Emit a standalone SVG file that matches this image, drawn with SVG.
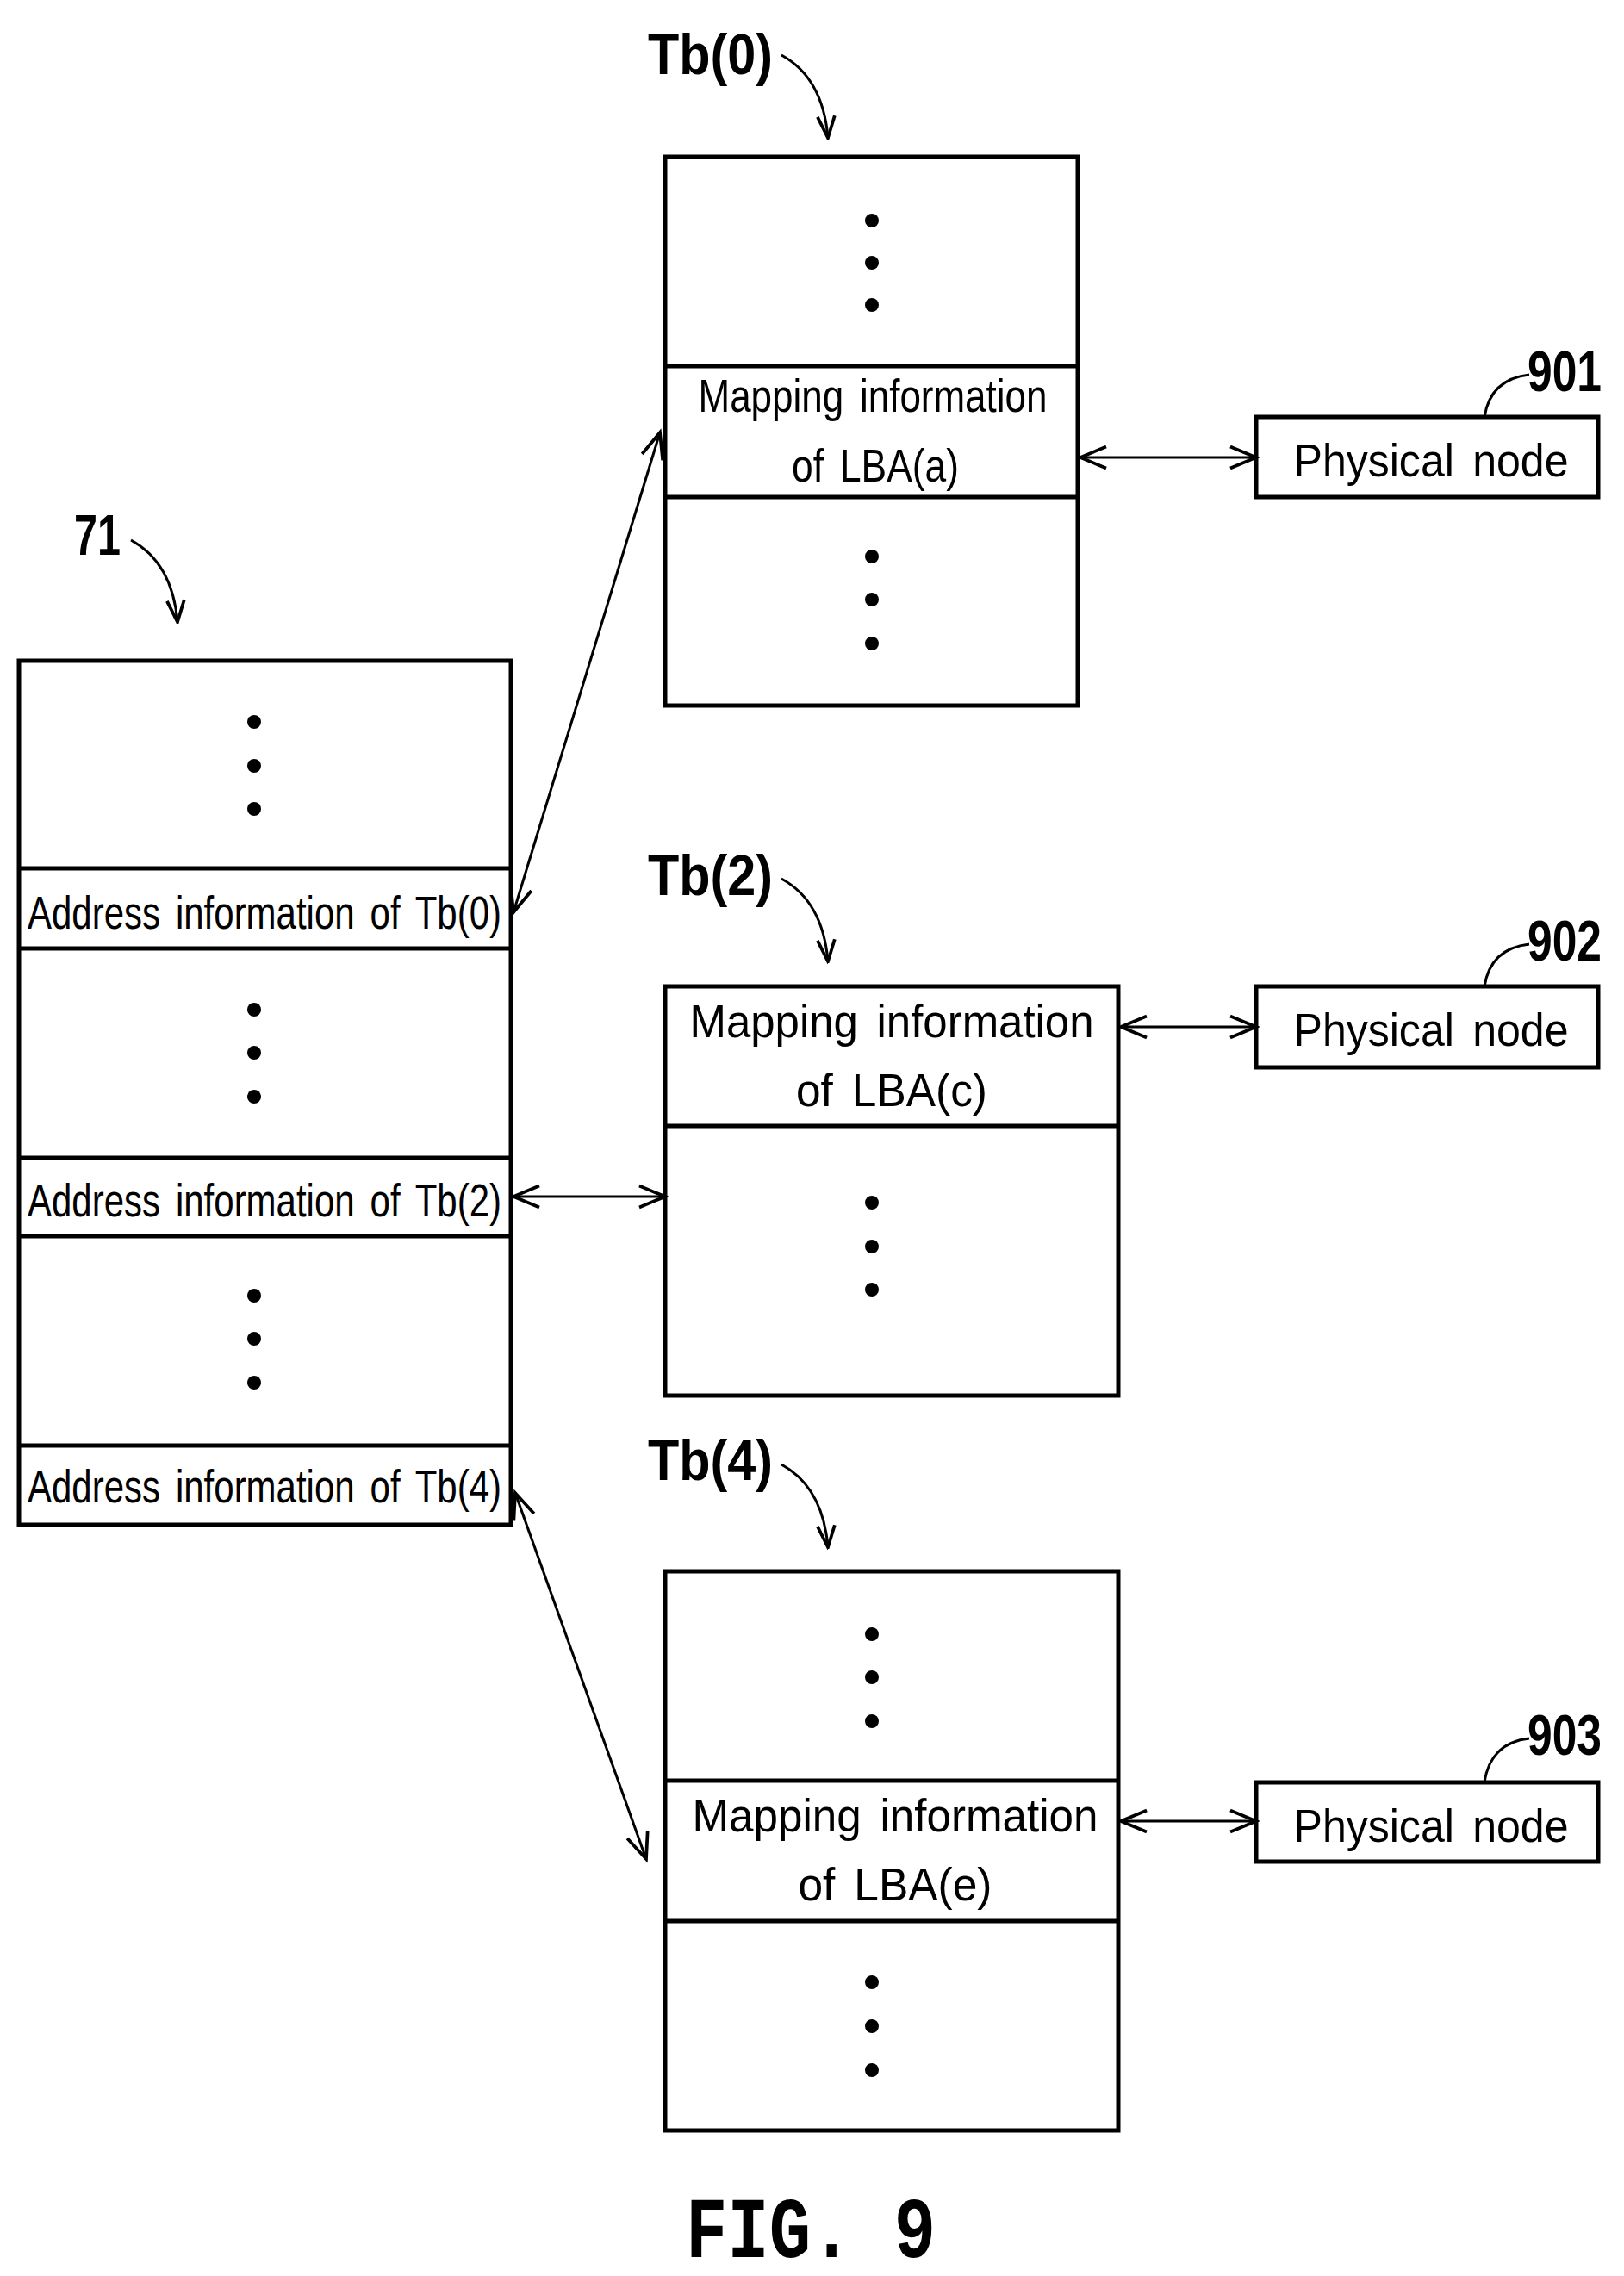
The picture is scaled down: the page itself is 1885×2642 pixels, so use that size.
<svg xmlns="http://www.w3.org/2000/svg" width="1885" height="2642" viewBox="0 0 1885 2642">
<style>
.box{fill:#fff;stroke:#000;stroke-width:5}
.t{font-family:"Liberation Sans",Arial,sans-serif;font-size:54px;fill:#000;text-anchor:middle;word-spacing:8px}
.lbl{font-family:"Liberation Sans",Arial,sans-serif;font-size:66px;font-weight:bold;fill:#000}
.c{fill:none;stroke:#000;stroke-width:3}
.dot{fill:#000}
</style>
<defs>
<marker id="ah" markerUnits="userSpaceOnUse" markerWidth="40" markerHeight="30" refX="26" refY="12" orient="auto-start-reverse" viewBox="0 0 30 24">
<path d="M2,2 L26,12 L2,22" fill="none" stroke="#000" stroke-width="3"/>
</marker>
<marker id="sh" markerUnits="userSpaceOnUse" markerWidth="30" markerHeight="30" refX="22" refY="10" orient="auto" viewBox="0 0 24 20">
<path d="M2,2 L22,10 L2,18" fill="none" stroke="#000" stroke-width="3"/>
</marker>
</defs>

<g id="table71">
<rect class="box" x="22" y="767" width="571" height="1003"/>
<line class="box" x1="22" y1="1008" x2="593" y2="1008"/>
<line class="box" x1="22" y1="1101" x2="593" y2="1101"/>
<line class="box" x1="22" y1="1344" x2="593" y2="1344"/>
<line class="box" x1="22" y1="1435" x2="593" y2="1435"/>
<line class="box" x1="22" y1="1678" x2="593" y2="1678"/>
<circle class="dot" cx="295" cy="838" r="8"/><circle class="dot" cx="295" cy="889" r="8"/><circle class="dot" cx="295" cy="939" r="8"/>
<circle class="dot" cx="295" cy="1172" r="8"/><circle class="dot" cx="295" cy="1222" r="8"/><circle class="dot" cx="295" cy="1273" r="8"/>
<circle class="dot" cx="295" cy="1504" r="8"/><circle class="dot" cx="295" cy="1554" r="8"/><circle class="dot" cx="295" cy="1605" r="8"/>
<text class="t" x="307" y="1078" textLength="550" lengthAdjust="spacingAndGlyphs">Address information of Tb(0)</text>
<text class="t" x="307" y="1412" textLength="550" lengthAdjust="spacingAndGlyphs">Address information of Tb(2)</text>
<text class="t" x="307" y="1744" textLength="550" lengthAdjust="spacingAndGlyphs">Address information of Tb(4)</text>
</g>

<g id="tb0">
<rect class="box" x="772" y="182" width="479" height="637"/>
<line class="box" x1="772" y1="425" x2="1251" y2="425"/>
<line class="box" x1="772" y1="577" x2="1251" y2="577"/>
<circle class="dot" cx="1012" cy="256" r="8"/><circle class="dot" cx="1012" cy="305" r="8"/><circle class="dot" cx="1012" cy="354" r="8"/>
<circle class="dot" cx="1012" cy="646" r="8"/><circle class="dot" cx="1012" cy="696" r="8"/><circle class="dot" cx="1012" cy="747" r="8"/>
<text class="t" x="1013" y="478" textLength="405" lengthAdjust="spacingAndGlyphs">Mapping information</text>
<text class="t" x="1016" y="559" textLength="194" lengthAdjust="spacingAndGlyphs">of LBA(a)</text>
</g>

<g id="tb2">
<rect class="box" x="772" y="1145" width="526" height="475"/>
<line class="box" x1="772" y1="1307" x2="1298" y2="1307"/>
<circle class="dot" cx="1012" cy="1396" r="8"/><circle class="dot" cx="1012" cy="1447" r="8"/><circle class="dot" cx="1012" cy="1497" r="8"/>
<text class="t" x="1035" y="1204" textLength="469" lengthAdjust="spacingAndGlyphs">Mapping information</text>
<text class="t" x="1035" y="1284" textLength="222" lengthAdjust="spacingAndGlyphs">of LBA(c)</text>
</g>

<g id="tb4">
<rect class="box" x="772" y="1824" width="526" height="649"/>
<line class="box" x1="772" y1="2067" x2="1298" y2="2067"/>
<line class="box" x1="772" y1="2230" x2="1298" y2="2230"/>
<circle class="dot" cx="1012" cy="1897" r="8"/><circle class="dot" cx="1012" cy="1947" r="8"/><circle class="dot" cx="1012" cy="1998" r="8"/>
<circle class="dot" cx="1012" cy="2301" r="8"/><circle class="dot" cx="1012" cy="2352" r="8"/><circle class="dot" cx="1012" cy="2403" r="8"/>
<text class="t" x="1039" y="2126" textLength="471" lengthAdjust="spacingAndGlyphs">Mapping information</text>
<text class="t" x="1039" y="2206" textLength="225" lengthAdjust="spacingAndGlyphs">of LBA(e)</text>
</g>

<g id="pn901">
<rect class="box" x="1458" y="484" width="397" height="93"/>
<text class="t" x="1661" y="553" textLength="319" lengthAdjust="spacingAndGlyphs">Physical node</text>
</g>
<g id="pn902">
<rect class="box" x="1458" y="1145" width="397" height="94"/>
<text class="t" x="1661" y="1214" textLength="319" lengthAdjust="spacingAndGlyphs">Physical node</text>
</g>
<g id="pn903">
<rect class="box" x="1458" y="2069" width="397" height="92"/>
<text class="t" x="1661" y="2138" textLength="319" lengthAdjust="spacingAndGlyphs">Physical node</text>
</g>

<g id="labels">
<text class="lbl" x="752" y="86" textLength="145" lengthAdjust="spacingAndGlyphs">Tb(0)</text>
<text class="lbl" x="752" y="1039" textLength="145" lengthAdjust="spacingAndGlyphs">Tb(2)</text>
<text class="lbl" x="752" y="1718" textLength="145" lengthAdjust="spacingAndGlyphs">Tb(4)</text>
<text class="lbl" x="86" y="644" textLength="54" lengthAdjust="spacingAndGlyphs">71</text>
<text class="lbl" x="1773" y="454" textLength="86" lengthAdjust="spacingAndGlyphs">901</text>
<text class="lbl" x="1773" y="1115" textLength="86" lengthAdjust="spacingAndGlyphs">902</text>
<text class="lbl" x="1773" y="2037" textLength="86" lengthAdjust="spacingAndGlyphs">903</text>
</g>

<g id="connectors">
<path class="c" d="M907,64 Q955,90 961,160" marker-end="url(#sh)"/>
<path class="c" d="M907,1020 Q955,1046 961,1116" marker-end="url(#sh)"/>
<path class="c" d="M907,1700 Q955,1726 961,1796" marker-end="url(#sh)"/>
<path class="c" d="M152,627 Q200,653 206,722" marker-end="url(#sh)"/>
<path class="c" d="M1775,435 Q1730,440 1723,484"/>
<path class="c" d="M1775,1096 Q1730,1101 1723,1145"/>
<path class="c" d="M1775,2018 Q1730,2023 1723,2069"/>
<line class="c" x1="596" y1="1059" x2="766" y2="502" marker-start="url(#ah)" marker-end="url(#ah)"/>
<line class="c" x1="596" y1="1389" x2="772" y2="1389" marker-start="url(#ah)" marker-end="url(#ah)"/>
<line class="c" x1="598" y1="1733" x2="750" y2="2158" marker-start="url(#ah)" marker-end="url(#ah)"/>
<line class="c" x1="1254" y1="531" x2="1458" y2="531" marker-start="url(#ah)" marker-end="url(#ah)"/>
<line class="c" x1="1301" y1="1192" x2="1458" y2="1192" marker-start="url(#ah)" marker-end="url(#ah)"/>
<line class="c" x1="1301" y1="2114" x2="1458" y2="2114" marker-start="url(#ah)" marker-end="url(#ah)"/>
</g>

<text x="941" y="2620" font-family="Liberation Mono,monospace" font-size="100" font-weight="bold" text-anchor="middle" textLength="290" lengthAdjust="spacingAndGlyphs">FIG. 9</text>
</svg>
